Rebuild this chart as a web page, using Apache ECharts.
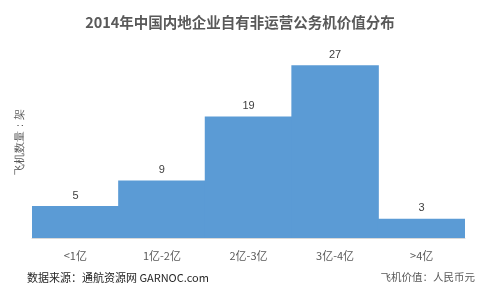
<!DOCTYPE html>
<html><head><meta charset="utf-8">
<script src="https://cdn.jsdelivr.net/npm/echarts@6/dist/echarts.min.js"></script>
<style>html,body{margin:0;padding:0;background:#fff}#c{width:480px;height:293px}</style>
</head><body><div id="c"></div>
<script>
const categories = ['<1亿', '1亿-2亿', '2亿-3亿', '3亿-4亿', '>4亿'];
const counts = [5, 9, 19, 27, 3];
const titleText = '2014年中国内地企业自有非运营公务机价值分布';
const yAxisName = '飞机数量：架';
const sourceText = '数据来源：通航资源网 GARNOC.com';
const unitText = '飞机价值：人民币元';

const chart = echarts.init(document.getElementById('c'), null, {renderer: 'canvas'});
chart.setOption({
  animation: false,
  title: {
    text: titleText, left: 'center', top: 10,
    textStyle: {fontFamily: 'Noto Sans CJK SC', fontSize: 14.5, fontWeight: 'bold', color: '#595959'}
  },
  grid: {left: 32, right: 15, top: 46, bottom: 55},
  xAxis: {
    type: 'category', data: categories,
    axisLine: {lineStyle: {color: '#d9d9d9'}},
    axisTick: {show: false},
    axisLabel: {color: '#595959', fontSize: 11, margin: 12, fontFamily: 'Noto Sans CJK SC'}
  },
  yAxis: {
    type: 'value', min: 0, max: 30,
    show: true,
    axisLine: {show: false}, axisTick: {show: false}, axisLabel: {show: false},
    splitLine: {show: false},
    name: yAxisName, nameLocation: 'middle', nameGap: 6, nameRotate: 90,
    nameTextStyle: {color: '#595959', fontSize: 11, fontFamily: 'serif'}
  },
  series: [{
    type: 'bar', data: counts, barCategoryGap: 0, barWidth: '101%',
    itemStyle: {color: '#5b9bd5'},
    label: {show: true, position: 'top', color: '#404040', fontSize: 11, distance: 5}
  }],
  graphic: [
    {type: 'text', left: 27, top: 272, style: {text: sourceText, fill: '#262626', fontSize: 11, fontFamily: 'Noto Sans CJK SC'}},
    {type: 'text', right: 5, top: 272, style: {text: unitText, fill: '#595959', fontSize: 10.5, fontFamily: 'Noto Sans CJK SC'}}
  ]
});
</script></body></html>
